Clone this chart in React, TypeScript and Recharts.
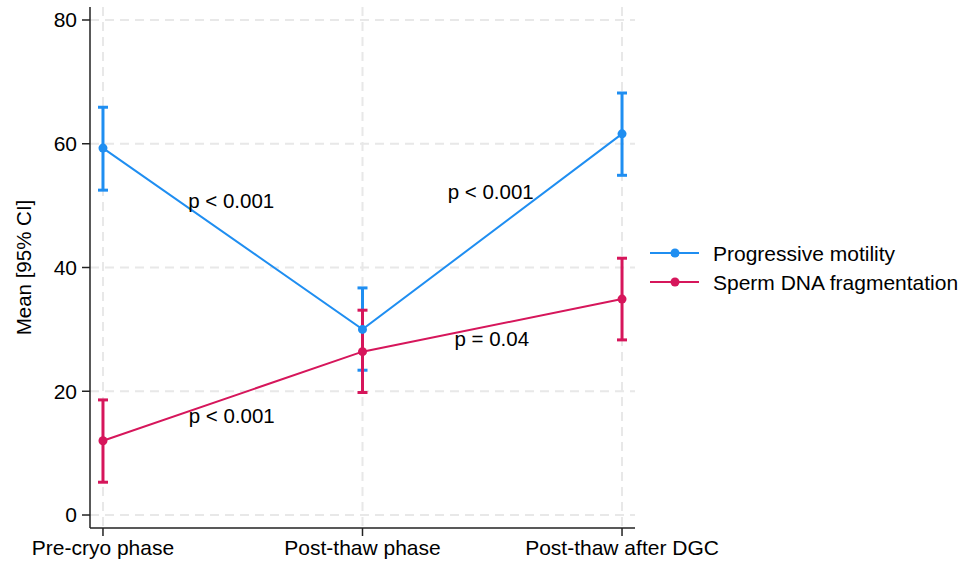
import React from "react";
import {
  ComposedChart,
  Line,
  XAxis,
  YAxis,
  CartesianGrid,
  ErrorBar,
  ReferenceDot,
} from "recharts";

const FONT = "'Liberation Sans', Arial, sans-serif";
const BLUE = "#1f8ef1";
const RED = "#d6165b";

const phases = ["Pre-cryo phase", "Post-thaw phase", "Post-thaw after DGC"];
const xTicks = [0, 1, 2];

const motilityMean = [59.3, 30.0, 61.6];
const motilityLow = [52.5, 23.4, 54.9];
const motilityHigh = [65.9, 36.7, 68.2];

const dnaMean = [12.0, 26.4, 34.9];
const dnaLow = [5.3, 19.8, 28.3];
const dnaHigh = [18.6, 33.1, 41.5];

const yTicks = [0, 20, 40, 60, 80];

const pLabels = ["p < 0.001", "p < 0.001", "p = 0.04", "p < 0.001"];
const pX = [0.494, 1.494, 1.498, 0.496];
const pY = [50.7, 52.3, 28.4, 16.0];

const data = phases.map((name, i) => ({
  x: xTicks[i],
  name,
  motility: motilityMean[i],
  motilityErr: [motilityMean[i] - motilityLow[i], motilityHigh[i] - motilityMean[i]],
  dna: dnaMean[i],
  dnaErr: [dnaMean[i] - dnaLow[i], dnaHigh[i] - dnaMean[i]],
}));

const legendItems = [
  { label: "Progressive motility", color: BLUE },
  { label: "Sperm DNA fragmentation", color: RED },
];

function LegendBox() {
  return (
    <svg width={320} height={60} style={{ position: "absolute", left: 650, top: 240 }}>
      {legendItems.map((it, i) => {
        const y = 13 + i * 29;
        return (
          <g key={it.label}>
            <line x1={0} x2={49} y1={y} y2={y} stroke={it.color} strokeWidth={2} />
            <circle cx={25} cy={y} r={4.5} fill={it.color} />
            <text x={63} y={y + 8} fontFamily={FONT} fontSize={21} fill="#000">
              {it.label}
            </text>
          </g>
        );
      })}
    </svg>
  );
}

const PText = (text: string) => (props: any) => (
  <text
    x={props.cx}
    y={props.cy}
    dy="0.35em"
    textAnchor="middle"
    fontFamily={FONT}
    fontSize={20.5}
    fill="#000"
  >
    {text}
  </text>
);

// grid only at the category ticks, not at the plot edges
const verticalGrid = (args: any) => {
  const scale = args?.xAxis?.scale;
  if (typeof scale === "function") return xTicks.map((v) => scale(v));
  const { left, width } = args.offset;
  return xTicks.map((v) => left + ((v + 0.05) / 2.1) * width);
};

export default function App() {
  return (
    <div style={{ position: "absolute", left: 0, top: 0, width: 970, height: 562, background: "#fff" }}>
      <ComposedChart
        width={970}
        height={562}
        data={data}
        margin={{ top: 7, right: 335, bottom: 0, left: 0 }}
      >
        <CartesianGrid
          stroke="#e8e8e8"
          strokeWidth={2}
          strokeDasharray="9 6"
          syncWithTicks
          verticalCoordinatesGenerator={verticalGrid}
        />
        <XAxis
          dataKey="x"
          type="number"
          domain={[-0.05, 2.05]}
          ticks={xTicks}
          tickFormatter={(v: number) => phases[v]}
          interval={0}
          height={34}
          tickSize={8}
          tickMargin={4}
          stroke="#222"
          strokeWidth={1.5}
          tick={{ fill: "#000", fontSize: 21, fontFamily: FONT }}
        />
        <YAxis
          type="number"
          domain={[-2.1, 82.1]}
          ticks={yTicks}
          width={90}
          tickSize={8}
          tickMargin={5}
          stroke="#222"
          strokeWidth={1.5}
          tick={{ fill: "#000", fontSize: 21, fontFamily: FONT }}
          label={{
            content: (p: any) => {
              const vb = p.viewBox || { x: 0, y: 7, width: 90, height: 521 };
              const cx = 31;
              const cy = vb.y + vb.height / 2;
              return (
                <text
                  x={cx}
                  y={cy}
                  transform={`rotate(-90 ${cx} ${cy})`}
                  textAnchor="middle"
                  fontFamily={FONT}
                  fontSize={20.5}
                  fill="#000"
                >
                  Mean [95% CI]
                </text>
              );
            },
          }}
        />
        <Line
          name="Progressive motility"
          dataKey="motility"
          stroke={BLUE}
          strokeWidth={2}
          dot={{ r: 4.5, fill: BLUE, stroke: BLUE, strokeWidth: 0 }}
          activeDot={false}
          isAnimationActive={false}
        >
          <ErrorBar dataKey="motilityErr" width={5} stroke={BLUE} strokeWidth={3} direction="y" />
        </Line>
        <Line
          name="Sperm DNA fragmentation"
          dataKey="dna"
          stroke={RED}
          strokeWidth={2}
          dot={{ r: 4.5, fill: RED, stroke: RED, strokeWidth: 0 }}
          activeDot={false}
          isAnimationActive={false}
        >
          <ErrorBar dataKey="dnaErr" width={5} stroke={RED} strokeWidth={3} direction="y" />
        </Line>
        {pLabels.map((t, i) => (
          <ReferenceDot
            key={i}
            x={pX[i]}
            y={pY[i]}
            r={0}
            ifOverflow="visible"
            shape={PText(t)}
          />
        ))}
      </ComposedChart>
      <LegendBox />
    </div>
  );
}
